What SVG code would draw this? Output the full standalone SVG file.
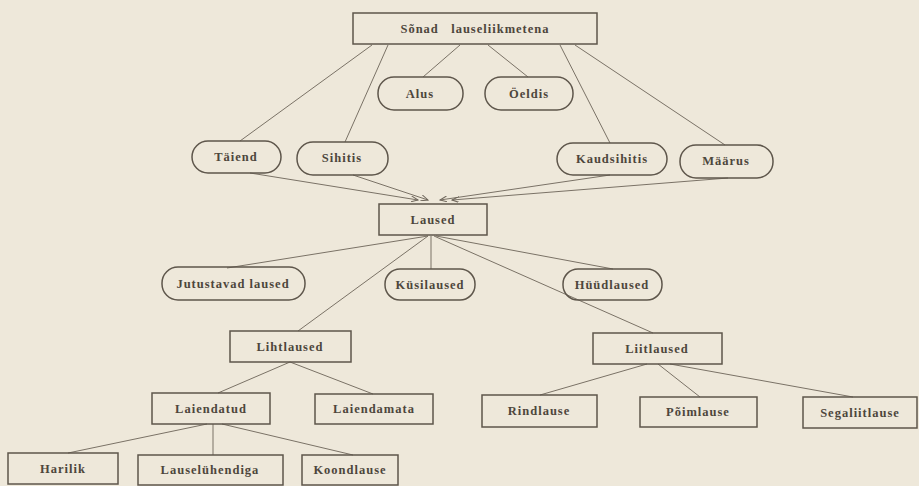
<svg xmlns="http://www.w3.org/2000/svg" width="919" height="486" viewBox="0 0 919 486">
<defs>
<marker id="ah" markerWidth="8" markerHeight="6" refX="7" refY="3" orient="auto" markerUnits="userSpaceOnUse">
<path d="M0,0 L7,3 L0,6" fill="none" stroke="#6e665b" stroke-width="1"/>
</marker>
</defs>
<style>
.bx{fill:none;stroke:#5e564b;stroke-width:1.5}
.t{font-family:"Liberation Serif",serif;font-weight:bold;font-size:12.5px;letter-spacing:1px;fill:#4d463c;text-anchor:middle}
.c{stroke:#7a7266;stroke-width:1;fill:none}
</style>
<rect x="0" y="0" width="919" height="486" fill="#eee8da"/>
<g id="connectors">
<line class="c" x1="372" y1="45" x2="240" y2="141"/>
<line class="c" x1="388" y1="45" x2="345" y2="142"/>
<line class="c" x1="460" y1="45" x2="423" y2="77"/>
<line class="c" x1="488" y1="45" x2="528" y2="77"/>
<line class="c" x1="560" y1="45" x2="610" y2="143"/>
<line class="c" x1="575" y1="45" x2="725" y2="145"/>
<line class="c" x1="250" y1="173" x2="418" y2="200" marker-end="url(#ah)"/>
<line class="c" x1="353" y1="175" x2="428" y2="200" marker-end="url(#ah)"/>
<line class="c" x1="610" y1="175" x2="440" y2="200" marker-end="url(#ah)"/>
<line class="c" x1="728" y1="178" x2="452" y2="200" marker-end="url(#ah)"/>
<line class="c" x1="428" y1="236" x2="227" y2="268"/>
<line class="c" x1="431" y1="236" x2="431" y2="269"/>
<line class="c" x1="436" y1="236" x2="613" y2="269"/>
<line class="c" x1="428" y1="236" x2="298" y2="331"/>
<line class="c" x1="434" y1="236" x2="653" y2="333"/>
<line class="c" x1="290" y1="362" x2="218" y2="393"/>
<line class="c" x1="290" y1="362" x2="373" y2="394"/>
<line class="c" x1="647" y1="364" x2="540" y2="395"/>
<line class="c" x1="658" y1="364" x2="700" y2="397"/>
<line class="c" x1="670" y1="364" x2="853" y2="397"/>
<line class="c" x1="207" y1="424" x2="68" y2="453"/>
<line class="c" x1="213" y1="424" x2="213" y2="455"/>
<line class="c" x1="222" y1="424" x2="353" y2="455"/>
</g>
<g id="n-sonad"><rect class="bx" x="353" y="13" width="244" height="31"/><text class="t" x="475" y="33">Sõnad&#160;&#160;&#160;lauseliikmetena</text></g>
<g id="n-alus"><rect class="bx" x="378" y="77" width="85" height="33" rx="16"/><text class="t" x="420" y="98">Alus</text></g>
<g id="n-oeldis"><rect class="bx" x="485" y="77" width="88" height="33" rx="16"/><text class="t" x="529" y="98">Öeldis</text></g>
<g id="n-taiend"><rect class="bx" x="192" y="141" width="89" height="32" rx="16"/><text class="t" x="236" y="161">Täiend</text></g>
<g id="n-sihitis"><rect class="bx" x="297" y="142" width="91" height="33" rx="16"/><text class="t" x="342" y="162">Sihitis</text></g>
<g id="n-kaudsihitis"><rect class="bx" x="557" y="143" width="110" height="32" rx="16"/><text class="t" x="612" y="163">Kaudsihitis</text></g>
<g id="n-maarus"><rect class="bx" x="680" y="145" width="93" height="33" rx="16"/><text class="t" x="726" y="165">Määrus</text></g>
<g id="n-laused"><rect class="bx" x="379" y="204" width="108" height="31"/><text class="t" x="433" y="224">Laused</text></g>
<g id="n-jutustavad"><rect class="bx" x="162" y="267" width="143" height="33" rx="16"/><text class="t" x="233" y="288">Jutustavad laused</text></g>
<g id="n-kusilaused"><rect class="bx" x="385" y="269" width="90" height="31" rx="15"/><text class="t" x="430" y="289">Küsilaused</text></g>
<g id="n-huudlaused"><rect class="bx" x="563" y="269" width="99" height="31" rx="15"/><text class="t" x="612" y="289">Hüüdlaused</text></g>
<g id="n-lihtlaused"><rect class="bx" x="230" y="331" width="121" height="31"/><text class="t" x="290" y="351">Lihtlaused</text></g>
<g id="n-liitlaused"><rect class="bx" x="593" y="333" width="129" height="31"/><text class="t" x="657" y="353">Liitlaused</text></g>
<g id="n-laiendatud"><rect class="bx" x="152" y="393" width="118" height="31"/><text class="t" x="211" y="413">Laiendatud</text></g>
<g id="n-laiendamata"><rect class="bx" x="315" y="394" width="118" height="30"/><text class="t" x="374" y="413">Laiendamata</text></g>
<g id="n-rindlause"><rect class="bx" x="482" y="395" width="115" height="32"/><text class="t" x="539" y="415">Rindlause</text></g>
<g id="n-poimlause"><rect class="bx" x="640" y="397" width="117" height="30"/><text class="t" x="698" y="416">Põimlause</text></g>
<g id="n-segaliitlause"><rect class="bx" x="803" y="397" width="114" height="31"/><text class="t" x="860" y="417">Segaliitlause</text></g>
<g id="n-harilik"><rect class="bx" x="8" y="453" width="110" height="31"/><text class="t" x="63" y="473">Harilik</text></g>
<g id="n-lauseluhendiga"><rect class="bx" x="138" y="455" width="145" height="30"/><text class="t" x="210" y="474">Lauselühendiga</text></g>
<g id="n-koondlause"><rect class="bx" x="302" y="455" width="96" height="30"/><text class="t" x="350" y="474">Koondlause</text></g>
</svg>
